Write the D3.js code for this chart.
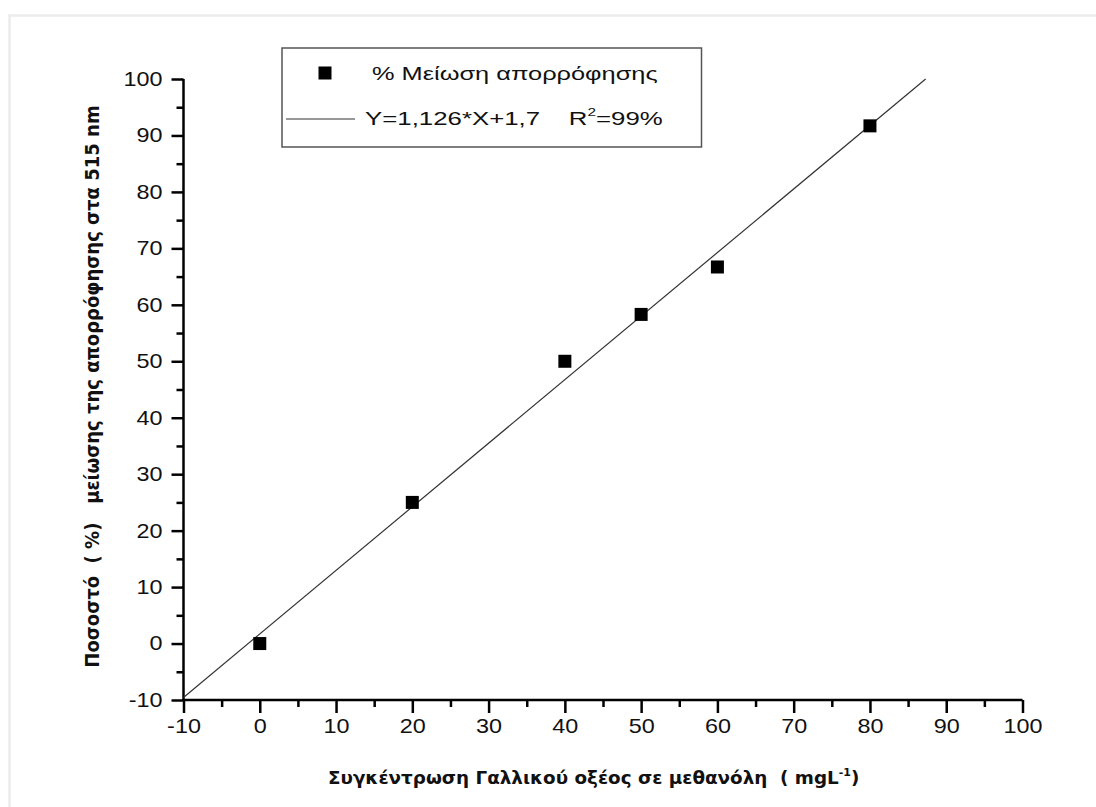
<!DOCTYPE html>
<html><head><meta charset="utf-8">
<script src="https://cdn.jsdelivr.net/npm/d3@7"></script>
<style>body{margin:0;background:#fff}svg{display:block}text{white-space:pre}</style>
</head><body>
<script>
const concentrations = [0, 20, 40, 50, 60, 80];
const reductions = [0, 25, 50, 58.3, 66.7, 91.7];
const xTicks = [-10, 0, 10, 20, 30, 40, 50, 60, 70, 80, 90, 100];
const yTicks = [-10, 0, 10, 20, 30, 40, 50, 60, 70, 80, 90, 100];
const fitSlope = 1.126, fitIntercept = 1.7;
const fitRange = [-10, 87.3];
const legendLabels = ["% Μείωση απορρόφησης", "Y=1,126*X+1,7    R", "=99%"];
const xTitle = "Συγκέντρωση Γαλλικού οξέος σε μεθανόλη  ( mgL";
const yTitle = "Ποσοστό  ( %)   μείωσης της απορρόφησης στα 515 nm";

const W = 1096, H = 807;
const svg = d3.select("body").append("svg").attr("width", W).attr("height", H);
svg.append("path").attr("d", `M9.5,${H}V15.5H${W}`).attr("fill","none").attr("stroke","#ececec").attr("stroke-width",2.5);

const x = d3.scaleLinear().domain([-10, 100]).range([183.5, 1022.5]);
const y = d3.scaleLinear().domain([-10, 100]).range([700, 79]);
const font = "'Liberation Sans', Arial, sans-serif";
const fmt = d => String(d);

function stretchX(sel, k) {
  sel.each(function(){
    const b = this.getBBox();
    const cx = b.x + b.width/2, cy = b.y + b.height/2;
    d3.select(this).attr("transform", `translate(${cx},${cy}) scale(${k},1) translate(${-cx},${-cy})`);
  });
}
function fitStart(sel, x0, width) {
  const b = sel.node().getBBox();
  const k = width / b.width;
  sel.attr("transform", `translate(${x0},0) scale(${k},1) translate(${-b.x},0)`);
}

const xg = svg.append("g").attr("transform","translate(0,700)")
  .call(d3.axisBottom(x).tickValues(xTicks).tickSize(13).tickPadding(6).tickFormat(fmt));
const yg = svg.append("g").attr("transform","translate(183.5,0)")
  .call(d3.axisLeft(y).tickValues(yTicks).tickSize(12).tickPadding(9).tickFormat(fmt));
const minor = d3.range(-5, 100, 10);
svg.append("g").attr("transform","translate(0,700)").call(d3.axisBottom(x).tickValues(minor).tickSize(7).tickFormat(""));
svg.append("g").attr("transform","translate(183.5,0)").call(d3.axisLeft(y).tickValues(minor).tickSize(7).tickFormat(""));
svg.selectAll(".domain").remove();
svg.selectAll(".tick line").attr("stroke","#000").attr("stroke-width",2.5);
svg.selectAll(".tick text").attr("font-family",font).attr("font-size",20).attr("fill","#111");
stretchX(xg.selectAll(".tick text"), 1.17);
yg.selectAll(".tick text").each(function(){
  const b = this.getBBox(); const rx = b.x + b.width, cy = b.y + b.height/2;
  d3.select(this).attr("transform", `translate(${rx},${cy}) scale(1.17,1) translate(${-rx},${-cy})`);
});
svg.append("line").attr("x1",x(-10)).attr("x2",x(100)).attr("y1",700).attr("y2",700).attr("stroke","#000").attr("stroke-width",2.5);
svg.append("line").attr("x1",183.5).attr("x2",183.5).attr("y1",y(-10)).attr("y2",y(100)).attr("stroke","#000").attr("stroke-width",2.5);

svg.append("line")
  .attr("x1", x(fitRange[0])).attr("y1", y(fitSlope*fitRange[0]+fitIntercept))
  .attr("x2", x(fitRange[1])).attr("y2", y(fitSlope*fitRange[1]+fitIntercept))
  .attr("stroke","#333").attr("stroke-width",1.2);

const s = 13;
svg.append("g").selectAll("rect").data(concentrations).join("rect")
  .attr("x", d => x(d) - s/2).attr("y", (d,i) => y(reductions[i]) - s/2)
  .attr("width", s).attr("height", s).attr("fill","#000");

const lg = svg.append("g");
lg.append("rect").attr("x",282).attr("y",48).attr("width",419.5).attr("height",99)
  .attr("fill","#fff").attr("stroke","#555").attr("stroke-width",1.5);
lg.append("rect").attr("x",325-6.5).attr("y",73-6.5).attr("width",13).attr("height",13).attr("fill","#000");
const t1 = lg.append("text").attr("x",0).attr("y",80).attr("font-family",font).attr("font-size",18.5).attr("fill","#111").text(legendLabels[0]);
fitStart(t1, 372, 286);
lg.append("line").attr("x1",286).attr("x2",355).attr("y1",119).attr("y2",119).attr("stroke","#333").attr("stroke-width",1.2);
const t2 = lg.append("text").attr("x",0).attr("y",125).attr("font-family",font).attr("font-size",18.5).attr("fill","#111");
t2.append("tspan").text(legendLabels[1]);
t2.append("tspan").attr("dy",-9).attr("font-size",11).text("2");
t2.append("tspan").attr("dy",9).text(legendLabels[2]);
fitStart(t2, 365, 298);

const xt = svg.append("text").attr("x",0).attr("y",784)
  .attr("font-family","'DejaVu Sans', sans-serif").attr("font-weight","bold").attr("font-size",17.5).attr("fill","#111");
xt.append("tspan").text(xTitle);
xt.append("tspan").attr("dy",-8).attr("font-size",10.5).text("-1");
xt.append("tspan").attr("dy",8).text(")");
fitStart(xt, 328, 532);

const yt = svg.append("text").attr("x",0).attr("y",0).attr("text-anchor","middle")
  .attr("font-family","'DejaVu Sans', sans-serif").attr("font-weight","bold").attr("font-size",15).attr("fill","#111")
  .text(yTitle);
const yb = yt.node().getBBox();
const ky = 563 / yb.width;
yt.attr("transform", `translate(99,386.5) scale(1.25,1) rotate(-90) scale(${ky},1)`);
</script>
</body></html>
